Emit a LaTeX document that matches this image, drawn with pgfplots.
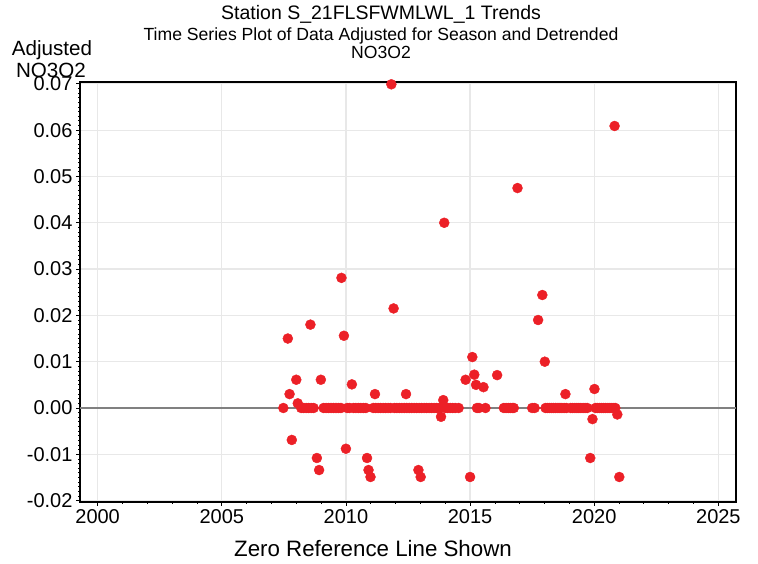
\documentclass[border=0pt]{standalone}
\usepackage{pgfplots}
\pgfplotsset{compat=1.18}
\usepackage{fontspec}
\setmainfont{Liberation Sans}
\definecolor{dotred}{RGB}{236,32,39}
\definecolor{gridc}{RGB}{232,232,232}
\begin{document}
\begin{tikzpicture}
\useasboundingbox (0,0) rectangle (758pt,564pt);
\begin{axis}[
  at={(80pt,62pt)}, anchor=south west,
  scale only axis, width=656pt, height=420pt,
  xmin=1999.29, xmax=2025.71, ymin=-0.0203, ymax=0.0704,
  xtick={2000,2005,2010,2015,2020,2025},
  minor x tick num=4,
  ytick={-0.02,-0.01,0,0.01,0.02,0.03,0.04,0.05,0.06,0.07},
  minor y tick num=9,
  scaled y ticks=false,
  tick pos=left, tick align=outside,
  major tick length=4pt, minor tick length=2pt,
  every tick/.style={black, line width=0.8pt},
  xmajorgrids, ymajorgrids,
  major grid style={gridc, line width=1.2pt},
  axis line style={black, line width=1.4pt},
  /pgf/number format/assume math mode=true,
  xticklabel style={/pgf/number format/.cd, 1000 sep={}, fixed, precision=0},
  yticklabel style={/pgf/number format/.cd, fixed, fixed zerofill, precision=2},
  ticklabel style={font=\fontsize{20}{24}\selectfont},
  clip=false,
]
\addplot[color=gray, line width=1.3pt, forget plot] coordinates {(1999.29,0) (2025.71,0)};
\addplot[only marks, mark=*, mark size=5pt, color=dotred, mark options={draw=dotred, fill=dotred}] table {
x y
2007.48 0
2007.66 0.0150
2007.73 0.0030
2007.82 -0.0069
2008.00 0.0061
2008.06 0.0010
2008.2 0
2008.3 0
2008.4 0
2008.5 0
2008.57 0.0180
2008.6 0
2008.7 0
2008.83 -0.0108
2008.92 -0.0134
2008.99 0.0061
2009.1 0
2009.2 0
2009.3 0
2009.4 0
2009.5 0
2009.6 0
2009.7 0
2009.8 0
2009.82 0.0281
2009.92 0.0156
2010.00 -0.0088
2010.05 0
2010.15 0
2010.24 0.0051
2010.3 0
2010.4 0
2010.5 0
2010.6 0
2010.7 0
2010.8 0
2010.85 -0.0108
2010.91 -0.0134
2010.99 -0.0149
2011.1 0
2011.17 0.0030
2011.2 0
2011.3 0
2011.4 0
2011.5 0
2011.6 0
2011.7 0
2011.8 0
2011.83 0.0699
2011.92 0.0215
2011.95 0
2012.05 0
2012.15 0
2012.25 0
2012.35 0
2012.42 0.0030
2012.45 0
2012.55 0
2012.65 0
2012.75 0
2012.85 0
2012.92 -0.0134
2012.95 0
2013.01 -0.0149
2013.05 0
2013.15 0
2013.25 0
2013.35 0
2013.45 0
2013.55 0
2013.65 0
2013.75 0
2013.83 -0.0019
2013.92 0.0017
2013.96 0.0400
2014.0 0
2014.1 0
2014.2 0
2014.3 0
2014.4 0
2014.54 0
2014.82 0.0061
2015.00 -0.0149
2015.09 0.0110
2015.17 0.0072
2015.24 0.0050
2015.28 0
2015.36 0
2015.54 0.0045
2015.62 0
2016.09 0.0071
2016.36 0
2016.45 0
2016.54 0
2016.62 0
2016.70 0
2016.76 0
2016.91 0.0475
2017.50 0
2017.60 0
2017.74 0.0190
2017.91 0.0244
2018.01 0.0100
2018.04 0
2018.12 0
2018.20 0
2018.28 0
2018.36 0
2018.45 0
2018.54 0
2018.62 0
2018.70 0
2018.79 0
2018.84 0.0030
2018.88 0
2019.05 0
2019.13 0
2019.22 0
2019.30 0
2019.38 0
2019.46 0
2019.55 0
2019.63 0
2019.72 0
2019.84 -0.0108
2019.93 -0.0024
2020.01 0.0041
2020.05 0
2020.13 0
2020.22 0
2020.30 0
2020.38 0
2020.46 0
2020.55 0
2020.63 0
2020.71 0
2020.79 0
2020.82 0.0609
2020.85 0
2020.93 -0.0014
2021.01 -0.0149
};
\end{axis}
\node[anchor=base, inner sep=0pt] at (381pt,544pt) {\fontsize{19.5}{23}\selectfont Station S\_21FLSFWMLWL\_1 Trends};
\node[anchor=base, inner sep=0pt] at (381pt,523pt) {\fontsize{17.6}{21}\selectfont Time Series Plot of Data Adjusted for Season and Detrended};
\node[anchor=base, inner sep=0pt] at (381pt,505pt) {\fontsize{17.6}{21}\selectfont NO3O2};
\node[anchor=base, inner sep=0pt] at (52pt,508pt) {\fontsize{20.6}{24}\selectfont Adjusted};
\node[anchor=base, inner sep=0pt] at (51pt,486pt) {\fontsize{20.6}{24}\selectfont NO3O2};
\node[anchor=base, inner sep=0pt] at (373pt,7pt) {\fontsize{22.3}{26}\selectfont Zero Reference Line Shown};
\end{tikzpicture}
\end{document}
